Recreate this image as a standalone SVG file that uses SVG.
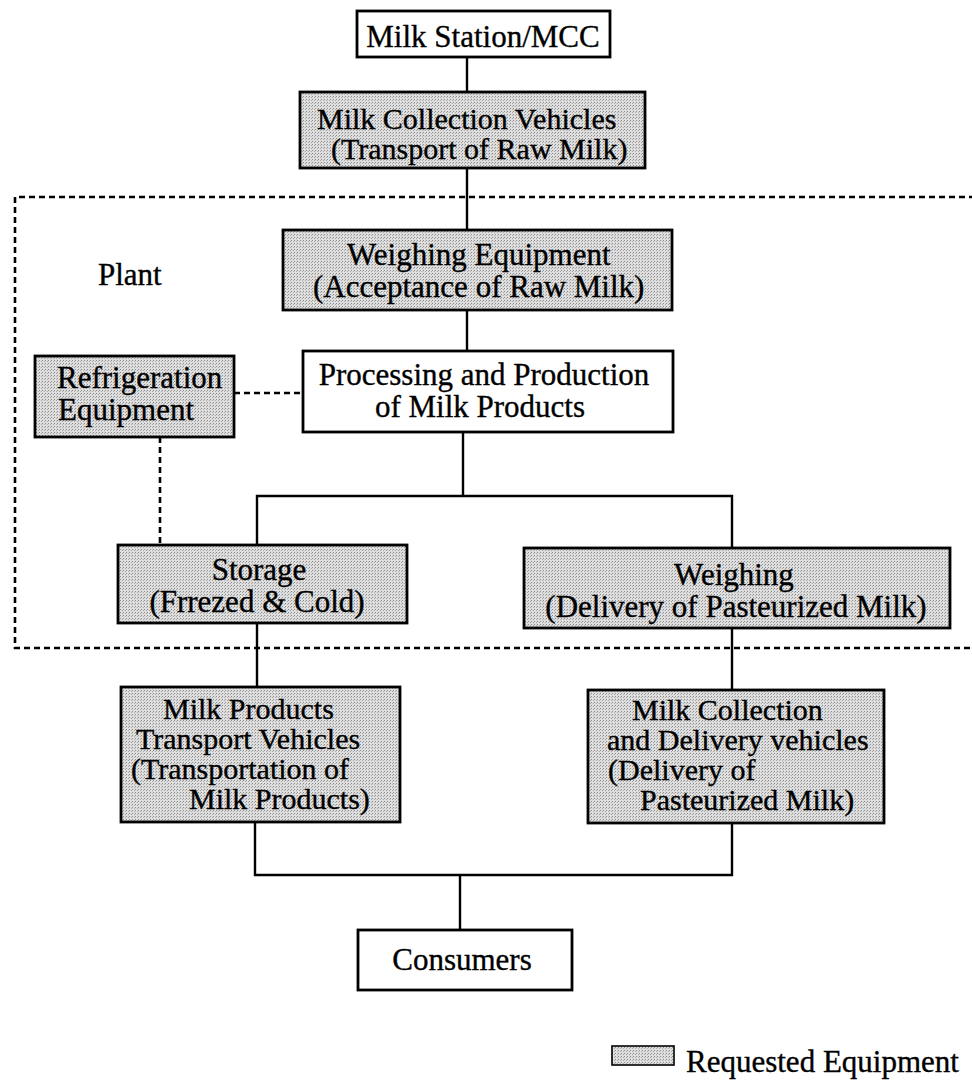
<svg xmlns="http://www.w3.org/2000/svg" width="972" height="1080" viewBox="0 0 972 1080">
  <defs>
    <!-- fine stipple used for equipment boxes -->
    <pattern id="stipple" width="3" height="3" patternUnits="userSpaceOnUse">
      <rect width="3" height="3" fill="#dedede"/>
      <rect x="0" y="0" width="1" height="1" fill="#8c8c8c"/>
      <rect x="2" y="1" width="1" height="1" fill="#a8a8a8"/>
    </pattern>
    <style>
      text { font-family: "Liberation Serif", "Times New Roman", serif; font-size: 31px; fill: #000; stroke: #000; stroke-width: 0.35; }
      .c { text-anchor: middle; }
      .s { font-size: 30px; }
      .box { fill: #fff; stroke: #000; stroke-width: 2.8; }
      .eq { fill: url(#stipple); stroke: #000; stroke-width: 2.8; }
      .ln { fill: none; stroke: #000; stroke-width: 2.4; }
      .dash { fill: none; stroke: #000; stroke-width: 2.6; stroke-dasharray: 6 4; }
    </style>
  </defs>
  <rect width="972" height="1080" fill="#fff"/>

  <!-- plant boundary, open on the right side -->
  <g id="plant">
    <path class="dash" d="M975 197 H15 V648 H975"/>
    <text x="98" y="285">Plant</text>
  </g>

  <!-- connectors -->
  <g id="connectors">
    <path class="ln" d="M467 57 V92"/>
    <path class="ln" d="M467 168 V230"/>
    <path class="ln" d="M467 310 V351"/>
    <path class="ln" d="M463 432 V496"/>
    <path class="ln" d="M257 545 V496 H732 V548"/>
    <path class="ln" d="M257 623 V687"/>
    <path class="ln" d="M732 628 V690"/>
    <path class="ln" d="M255 822 V875 H732 V823"/>
    <path class="ln" d="M460 875 V930"/>
    <path class="dash" d="M234 393 H302"/>
    <path class="dash" d="M160 437 V545"/>
  </g>

  <g id="milk-station">
    <rect class="box" x="357" y="11" width="253" height="46"/>
    <text class="c" x="483" y="47">Milk Station/MCC</text>
  </g>

  <g id="collection-vehicles">
    <rect class="eq" x="300" y="92" width="345" height="76"/>
    <text class="s" x="317" y="129">Milk Collection Vehicles</text>
    <text class="s" x="331" y="159">(Transport of Raw Milk)</text>
  </g>

  <g id="weighing-equipment">
    <rect class="eq" x="283" y="230" width="389" height="80"/>
    <text x="347" y="265">Weighing Equipment</text>
    <text x="313" y="297">(Acceptance of Raw Milk)</text>
  </g>

  <g id="processing">
    <rect class="box" x="303" y="351" width="370" height="81"/>
    <text class="c" x="484" y="385">Processing and Production</text>
    <text class="c" x="480" y="417">of Milk Products</text>
  </g>

  <g id="refrigeration">
    <rect class="eq" x="35" y="356" width="199" height="81"/>
    <text x="57" y="388">Refrigeration</text>
    <text x="58" y="420">Equipment</text>
  </g>

  <g id="storage">
    <rect class="eq" x="118" y="545" width="289" height="78"/>
    <text class="c" x="259" y="580">Storage</text>
    <text class="c" x="257" y="612">(Frrezed &amp; Cold)</text>
  </g>

  <g id="weighing-delivery">
    <rect class="eq" x="524" y="548" width="426" height="80"/>
    <text class="c" x="734" y="585">Weighing</text>
    <text class="c" x="736" y="617">(Delivery of Pasteurized Milk)</text>
  </g>

  <g id="products-transport">
    <rect class="eq" x="121" y="687" width="279" height="135"/>
    <text class="s" x="163" y="719">Milk Products</text>
    <text class="s" x="136" y="749">Transport Vehicles</text>
    <text class="s" x="131" y="779">(Transportation of</text>
    <text class="s" x="189" y="809">Milk Products)</text>
  </g>

  <g id="delivery-vehicles">
    <rect class="eq" x="588" y="690" width="296" height="133"/>
    <text class="s" x="632" y="720">Milk Collection</text>
    <text class="s" x="607" y="750">and Delivery vehicles</text>
    <text class="s" x="608" y="780">(Delivery of</text>
    <text class="s" x="640" y="810">Pasteurized Milk)</text>
  </g>

  <g id="consumers">
    <rect class="box" x="358" y="930" width="214" height="60"/>
    <text class="c" x="462" y="970">Consumers</text>
  </g>

  <g id="legend">
    <rect class="eq" x="612" y="1046" width="62" height="19" style="stroke-width:1.6"/>
    <text x="686" y="1072">Requested Equipment</text>
  </g>
</svg>
